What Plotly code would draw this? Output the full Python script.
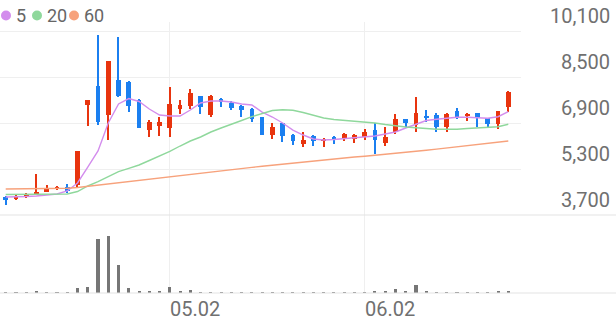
import plotly.graph_objects as go

# ---------------- data ----------------
idx = list(range(50))
opens = [4340, 4270, 4315, 4385, 4510, 4600, 4675, 4745, 7525, 8197,
         7178, 8395, 8315, 7700, 6656, 6795, 6715, 7387, 7491, 7839,
         7178, 7735, 7600, 7480, 7387, 7098, 6470, 6890, 6493, 6159,
         6458, 6284, 6423, 6330, 6330, 6400, 6656, 6194, 6576, 7028,
         6830, 7144, 7178, 6770, 7328, 7144, 7237, 7063, 6855, 7446]
highs = [4360, 4390, 4455, 5115, 4745, 4700, 4770, 5935, 7710, 9960,
         9067, 9900, 8370, 7745, 7004, 7120, 8162, 7690, 8072, 7850,
         7880, 7780, 7680, 7515, 7410, 7120, 6900, 6910, 6510, 6597,
         6470, 6390, 6440, 6560, 6520, 6690, 6900, 6771, 7202, 7050,
         7794, 7352, 7237, 7237, 7410, 7260, 7260, 7080, 7317, 8000]
lows = [4050, 4220, 4290, 4385, 4510, 4580, 4475, 4665, 6805, 6830,
        6309, 7820, 7293, 6736, 6423, 6450, 6423, 7200, 7397, 7213,
        7100, 7445, 7352, 7100, 6925, 6470, 6330, 6250, 6134, 6076,
        6110, 6070, 6160, 6280, 6200, 6310, 5830, 6110, 6517, 6770,
        6597, 6945, 6597, 6576, 7028, 6980, 6771, 6771, 6680, 7300]
closes = [4220, 4310, 4420, 4500, 4630, 4675, 4535, 5935, 7710, 6945,
          9067, 7850, 7500, 6736, 6924, 6935, 7571, 7515, 7933, 7467,
          7839, 7620, 7425, 7352, 7050, 6482, 6760, 6457, 6284, 6310,
          6272, 6354, 6310, 6510, 6482, 6575, 6310, 6423, 7028, 6890,
          7258, 7098, 6770, 7213, 7120, 7224, 7085, 6855, 7317, 7988]
ma5 = [4326, 4326, 4343, 4361, 4396, 4430, 4535, 4813, 5369, 5926,
       6900, 7561, 7752, 7648, 7387, 7178, 7143, 7143, 7352, 7595,
       7665, 7665, 7630, 7561, 7526, 7282, 7108, 6900, 6656, 6482,
       6343, 6308, 6326, 6361, 6389, 6413, 6448, 6517, 6587, 6726,
       6848, 6987, 7029, 7063, 7098, 7098, 7084, 7063, 7119, 7293]
ma20 = [4413, 4413, 4413, 4413, 4420, 4420, 4430, 4517, 4709, 4858,
        5032, 5206, 5324, 5439, 5596, 5752, 5909, 6100, 6274, 6413,
        6587, 6726, 6848, 6987, 7119, 7237, 7334, 7362, 7341, 7265,
        7161, 7074, 7021, 6994, 6969, 6935, 6900, 6848, 6795, 6761,
        6736, 6708, 6681, 6681, 6681, 6708, 6736, 6754, 6771, 6855]
ma60 = [4604, 4604, 4604, 4611, 4618, 4622, 4629, 4656, 4698, 4743,
        4785, 4830, 4872, 4917, 4959, 5001, 5043, 5084, 5126, 5164,
        5203, 5241, 5279, 5317, 5356, 5394, 5432, 5470, 5509, 5543,
        5578, 5613, 5648, 5682, 5717, 5745, 5776, 5811, 5846, 5881,
        5915, 5954, 5992, 6030, 6069, 6107, 6148, 6190, 6232, 6274]
volumes = [30000, 20000, 30000, 130000, 30000, 30000, 30000, 470000, 570000, 5370000,
           5700000, 2770000, 500000, 230000, 130000, 170000, 630000, 200000, 300000, 100000,
           100000, 100000, 100000, 100000, 100000, 100000, 100000, 100000, 100000, 100000,
           100000, 100000, 100000, 100000, 100000, 100000, 170000, 200000, 430000, 170000,
           770000, 130000, 100000, 100000, 100000, 100000, 100000, 100000, 170000, 230000]
price_ticks = [3700, 5300, 6900, 8500, 10100]
date_tick_pos = [16, 35]
date_tick_labels = ["05.02", "06.02"]
ma_names = ["5", "20", "60"]

# ---------------- styles ----------------
RED = "#e8340e"
BLUE = "#1b7ff0"
MA_COLORS = ["#d38ded", "#8fd89c", "#f7a27c"]
GRID = "#efefef"
SEP = "#e3e3e3"
TXT = "#707070"
FONT = "Roboto"

W, H = 616, 321
x_range = [-0.556, 50.19]
x_dom = [0, 520.5 / W]
price_dom = [(H - 215) / H, (H - 22) / H]
vol_dom = [(H - 293) / H, (H - 215) / H]
price_range = [3700, 3700 + (215 - 22) * 1600 / 46]
vol_range = [0, 7800000]

colors = [RED if c >= o else BLUE for o, c in zip(opens, closes)]

fig = go.Figure()

# moving averages
for name, vals, col in zip(ma_names, [ma60, ma20, ma5][::-1], MA_COLORS):
    pass
for name, vals, col in zip(ma_names, [ma5, ma20, ma60], MA_COLORS):
    fig.add_trace(go.Scatter(x=idx, y=vals, mode="lines", name=name,
                             line=dict(color=col, width=1.4), xaxis="x", yaxis="y",
                             showlegend=False, hoverinfo="skip"))

# wicks
fig.add_trace(go.Bar(x=idx, base=lows, y=[h - l for h, l in zip(highs, lows)],
                     width=0.13, marker=dict(color=colors, line=dict(width=0)),
                     xaxis="x", yaxis="y", showlegend=False))
# bodies
fig.add_trace(go.Bar(x=idx, base=[min(o, c) for o, c in zip(opens, closes)],
                     y=[max(abs(c - o), 35) for o, c in zip(opens, closes)],
                     width=0.46, marker=dict(color=colors, line=dict(width=0)),
                     xaxis="x", yaxis="y", showlegend=False))
# volume
fig.add_trace(go.Bar(x=idx, y=volumes, width=0.3,
                     marker=dict(color="#767676", line=dict(width=0)),
                     xaxis="x2", yaxis="y2", showlegend=False))

axis_common = dict(range=x_range, domain=x_dom, tickvals=date_tick_pos,
                   showgrid=True, gridcolor=GRID, gridwidth=1,
                   showticklabels=False, zeroline=False, showline=False, ticks="")
fig.update_layout(
    width=W, height=H, margin=dict(l=0, r=0, t=0, b=0),
    paper_bgcolor="white", plot_bgcolor="white",
    barmode="overlay", bargap=0, showlegend=False,
    font=dict(family=FONT, color=TXT),
    xaxis=dict(anchor="y", **axis_common),
    xaxis2=dict(anchor="y2", **axis_common),
    yaxis=dict(domain=price_dom, range=price_range, tickvals=price_ticks,
               showgrid=True, gridcolor=GRID, showticklabels=False,
               zeroline=False, showline=False, ticks=""),
    yaxis2=dict(domain=vol_dom, range=vol_range, showgrid=False,
                showticklabels=False, zeroline=False, showline=False, ticks=""),
)

shapes = []
for yp in [price_dom[0], vol_dom[0]]:
    shapes.append(dict(type="line", xref="paper", yref="paper", x0=0, x1=1,
                       y0=yp, y1=yp, line=dict(color=SEP, width=1)))

annotations = []
# price labels
for v in price_ticks:
    annotations.append(dict(x=1, xref="paper", xanchor="right", xshift=-4,
                            y=v, yref="y", yanchor="middle", yshift=15,
                            text=f"{v:,}", showarrow=False,
                            font=dict(family=FONT, size=20, color=TXT)))
# date labels
for p, t in zip(date_tick_pos, date_tick_labels):
    annotations.append(dict(x=p, xref="x2", xanchor="left", xshift=-2,
                            y=(H - 309) / H, yref="paper", yanchor="middle",
                            text=t, showarrow=False,
                            font=dict(family=FONT, size=20, color=TXT)))
# legend
dot_x = [6, 37, 74]
txt_x = [14, 45, 82]
for name, col, dx, tx in zip(ma_names, MA_COLORS, dot_x, txt_x):
    shapes.append(dict(type="circle", xref="paper", yref="paper",
                       xsizemode="pixel", ysizemode="pixel",
                       xanchor=dx / W, yanchor=(H - 15.5) / H,
                       x0=-5, x1=5, y0=-5, y1=5,
                       fillcolor=col, line=dict(width=0)))
    annotations.append(dict(x=tx / W, xref="paper", xanchor="left",
                            y=(H - 15.5) / H, yref="paper", yanchor="middle",
                            text=name, showarrow=False,
                            font=dict(family=FONT, size=18, color="#666666")))

fig.update_layout(shapes=shapes, annotations=annotations)
fig.write_html("out.html")
